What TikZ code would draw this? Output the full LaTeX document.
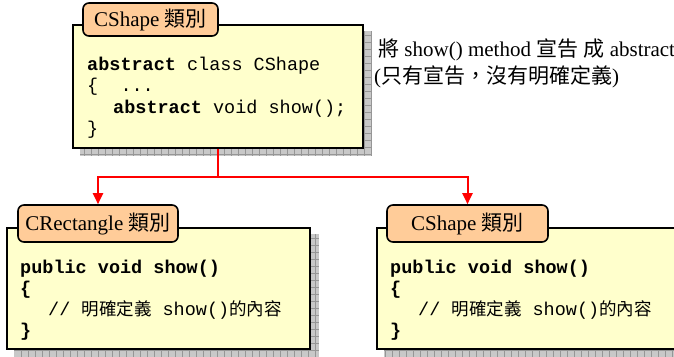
\documentclass[tikz,border=0pt]{standalone}
\usepackage{fontspec}
\setmainfont{Liberation Serif}
\setmonofont{Liberation Mono}
\newfontfamily\cjk{Noto Sans CJK TC}
\usetikzlibrary{arrows.meta,backgrounds}
\definecolor{boxfill}{RGB}{255,255,204}
\definecolor{tabfill}{RGB}{255,204,153}
\definecolor{shadowgray}{RGB}{200,200,200}
\definecolor{gridgray}{RGB}{150,150,150}
\tikzset{
  classbox/.style={draw=black, line width=1.8pt, fill=boxfill, rectangle, inner sep=0pt},
  tabbox/.style={draw=black, line width=1.6pt, fill=tabfill, rounded corners=6pt, inner sep=0pt,
    font=\fontsize{21}{24}\selectfont},
  code/.style={anchor=base west, inner sep=0pt, font=\ttfamily\fontsize{18.5}{21}\selectfont},
  note/.style={anchor=base west, inner sep=0pt, font=\fontsize{21}{26}\selectfont},
  conn/.style={draw=red, line width=2pt},
  arr/.style={conn, -{Triangle[length=11pt,width=10pt]}},
}
\begin{document}
\begin{tikzpicture}[x=1pt,y=-1pt]
\useasboundingbox (0,0) rectangle (674,356);
% class boxes
\node[classbox, minimum width=290pt, minimum height=123pt] (top) at (218,86.5) {};
\node[classbox, minimum width=303pt, minimum height=121pt] (left) at (158.5,288.5) {};
\node[classbox, minimum width=303pt, minimum height=121pt] (right) at (528.5,288.5) {};
% shadows
\begin{scope}[on background layer]
  \foreach \b in {top,left,right} {
    \fill[shadowgray] ([shift={(8pt,-7pt)}]\b.south west) rectangle ([shift={(8pt,-7pt)}]\b.north east);
    \begin{scope}
      \clip ([shift={(8pt,-7pt)}]\b.south west) rectangle ([shift={(8pt,-7pt)}]\b.north east);
      \draw[gridgray, line width=0.6pt, step=7pt] ([shift={(8pt,-7pt)}]\b.south west) grid ([shift={(8pt,-7pt)}]\b.north east);
    \end{scope}
  }
\end{scope}
% tabs
\node[tabbox, minimum width=135pt, minimum height=33pt] (toptab) at (150.5,19.5) {CShape {\cjk 類別}};
\node[tabbox, minimum width=160pt, minimum height=37pt] (lefttab) at (98,223.5) {CRectangle {\cjk 類別}};
\node[tabbox, minimum width=161pt, minimum height=37pt] (righttab) at (467.5,223.5) {CShape {\cjk 類別}};
% code in top box
\node[code] (t1) at (87,70) {\textbf{abstract} class CShape};
\node[code] (t2) at (87,91.5) {\{\ \ ...};
\node[code] (t3) at (113,113) {\textbf{abstract} void show();};
\node[code] (t4) at (87,134) {\}};
% code in left box
\node[code] (l1) at (20,273) {\textbf{public void show()}};
\node[code] (l2) at (20,294) {\textbf{\{}};
\node[code] (l3) at (48,315) {// {\cjk\fontsize{17.5}{21}\selectfont 明確定義} show(){\cjk\fontsize{17.5}{21}\selectfont 的內容}};
\node[code] (l4) at (20,336) {\textbf{\}}};
% code in right box
\node[code] (r1) at (390,273) {\textbf{public void show()}};
\node[code] (r2) at (390,294) {\textbf{\{}};
\node[code] (r3) at (418,315) {// {\cjk\fontsize{17.5}{21}\selectfont 明確定義} show(){\cjk\fontsize{17.5}{21}\selectfont 的內容}};
\node[code] (r4) at (390,336) {\textbf{\}}};
% annotation
\node[note] (n1) at (378,56) {{\cjk 將} show() method {\cjk 宣告} {\cjk 成} abstract};
\node[note] (n2) at (374,83) {({\cjk 只有宣告，沒有明確定義})};
% connectors
\coordinate (j) at (218,177);
\draw[conn] (top.south) -- (j);
\draw[arr] (j) -| (lefttab.north);
\draw[arr] (j) -| (righttab.north);
\end{tikzpicture}
\end{document}
